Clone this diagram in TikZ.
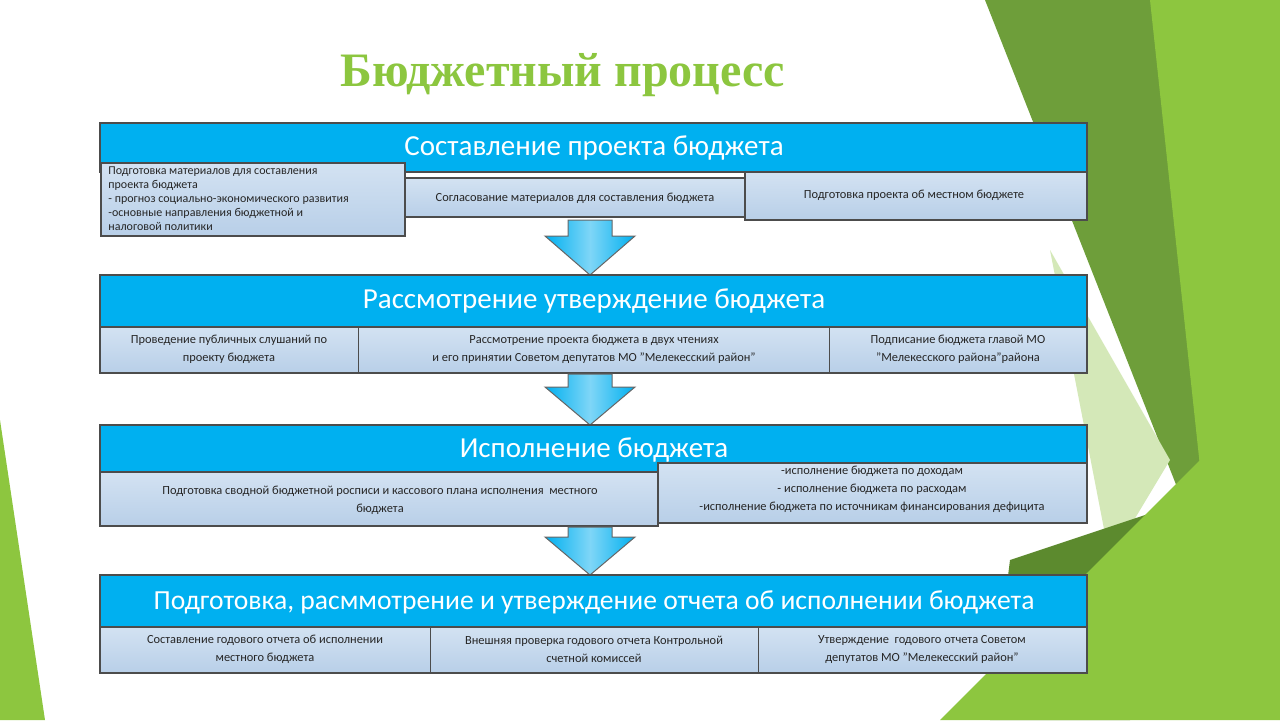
\documentclass[tikz,border=0pt]{standalone}
\usepackage{fontspec}
\setmainfont{Carlito}
\newfontfamily\titlefont{Liberation Serif}
\definecolor{cy}{HTML}{00B0F0}
\definecolor{cyl}{HTML}{7FD6F7}
\definecolor{subt}{HTML}{D3E2F2}
\definecolor{subb}{HTML}{B8CFE8}
\definecolor{gA}{HTML}{6E9E3A}
\definecolor{gB}{HTML}{8DC63F}
\definecolor{gC}{HTML}{D4E8B8}
\definecolor{gD}{HTML}{5C8A2E}
\definecolor{gT}{HTML}{8CC63F}
\begin{document}
\begin{tikzpicture}[x=0.5pt,y=-0.5pt,
 hdr/.style={draw=black!70,line width=0.6pt,fill=cy},
 sub/.style={draw=black!70,line width=0.6pt,top color=subt,bottom color=subb},
 htxt/.style={text=white,font=\fontsize{14.5}{16}\selectfont},
 stxt/.style={font=\fontsize{6.2}{9}\selectfont,align=center,text=black!85},
 arr/.style={draw=black!60,line width=0.5pt,left color=cy,right color=cy,middle color=cyl}]
\useasboundingbox (0,0) rectangle (1280,720);
\fill[white] (0,0) rectangle (1280,720);
% background
\fill[gA] (985,0)--(1280,0)--(1280,720)--(1190,520)--cycle;
\fill[gB] (1150,0)--(1280,0)--(1280,720)--(1210,560)--cycle;
\fill[gC] (1050,250)--(1170,460)--(1110,560)--cycle;
\fill[gD] (1010,560)--(1190,500)--(1130,720)--(990,720)--cycle;
\fill[gB] (940,720)--(1280,380)--(1280,720)--cycle;
\fill[gB] (0,420)--(45,720)--(0,720)--cycle;
% title
\node (title) at (563,75) {\titlefont\bfseries\fontsize{24}{26}\selectfont\textcolor{gT}{Бюджетный процесс}};
% band 1
\path[hdr] (100,123) rectangle (1087,172); \node[htxt] (h1) at (594,148) {Составление проекта бюджета};
\path[sub] (101,163) rectangle (405,236);
\node[align=left,anchor=north west,inner sep=1pt,text=black!85,font=\fontsize{6}{7.1}\selectfont] (s11) at (106,164) {Подготовка материалов для составления\\ проекта бюджета\\ - прогноз социально-экономического развития\\ -основные направления бюджетной и\\ налоговой политики};
\path[sub] (405,178) rectangle (745,217); \node[stxt] (s12) at (575,198) {Согласование материалов для составления бюджета};
\path[sub] (745,172) rectangle (1087,220); \node[stxt] (s13) at (914,195) {Подготовка проекта об местном бюджете};
% arrow1
\path[arr] (568,220)--(612,220)--(612,236)--(635,236)--(590,275)--(545,236)--(568,236)--cycle;
% band 2
\path[hdr] (100,275) rectangle (1087,327); \node[htxt] (h2) at (594,301) {Рассмотрение утверждение бюджета};
\path[sub] (100,327) rectangle (1087,373);
\draw[black!70] (358,327)--(358,373) (829,327)--(829,373);
\node[stxt] (s21) at (229,349) {Проведение публичных слушаний по\\проекту бюджета};
\node[stxt] (s22) at (594,349) {Рассмотрение проекта бюджета в двух чтениях\\и его принятии Советом депутатов МО "Мелекесский район"};
\node[stxt] (s23) at (958,349) {Подписание бюджета главой МО\\"Мелекесского района"района};
% arrow2
\path[arr] (568,374)--(612,374)--(612,387)--(635,387)--(590,425)--(545,387)--(568,387)--cycle;
% band 3
\path[hdr] (100,425) rectangle (1087,473); \node[htxt] (h3) at (594,450) {Исполнение бюджета};
\path[sub] (100,472) rectangle (658,526);
\node[stxt] (s31) at (380,500) {Подготовка сводной бюджетной росписи и кассового плана исполнения \ местного\\бюджета};
\path[sub] (658,463) rectangle (1087,523);
\node[stxt] (s32) at (872,489) {-исполнение бюджета по доходам\\- исполнение бюджета по расходам\\-исполнение бюджета по источникам финансирования дефицита};
% arrow3
\path[arr] (568,527)--(612,527)--(612,537)--(635,537)--(590,575)--(545,537)--(568,537)--cycle;
% band 4
\path[hdr] (100,575) rectangle (1087,627); \node[htxt,font=\fontsize{13.8}{15}\selectfont] (h4) at (594,602) {Подготовка, расммотрение и утверждение отчета об исполнении бюджета};
\path[sub] (100,627) rectangle (1087,673);
\draw[black!70] (430,627)--(430,673) (758,627)--(758,673);
\node[stxt] (s41) at (265,649) {Составление годового отчета об исполнении\\местного бюджета};
\node[stxt] (s42) at (594,649) {Внешняя проверка годового отчета Контрольной\\счетной комиссей};
\node[stxt] (s43) at (922,649) {Утверждение \ годового отчета Советом\\депутатов МО "Мелекесский район"};
\end{tikzpicture}
\end{document}
